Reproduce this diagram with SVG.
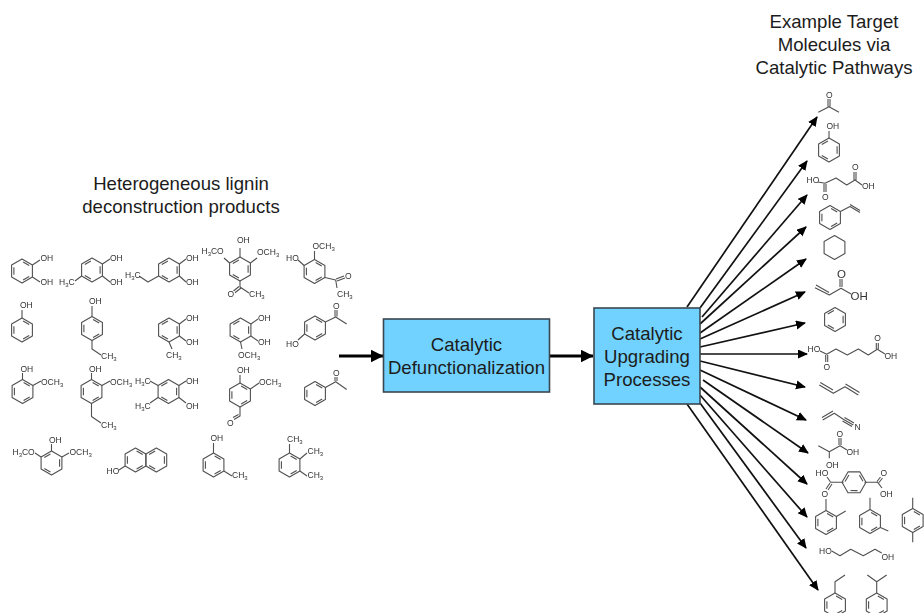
<svg xmlns="http://www.w3.org/2000/svg" width="924" height="613" viewBox="0 0 924 613">
<style>
text{font-family:"Liberation Sans",Arial,sans-serif}
.h{font-size:18.6px;fill:#1c1c1c;text-anchor:middle}
.n{font-size:18.6px;fill:#1c1c1c;text-anchor:middle}
.t{font-size:8.5px;fill:#333;filter:url(#soft)}
.l{font-size:11.5px;fill:#333;filter:url(#soft)}
.s{font-size:6px}
.b{fill:none;stroke:#505050;stroke-width:1.1;stroke-linejoin:round}
.box{fill:#71d2ff;stroke:#3a4650;stroke-width:1.6}
.a{fill:none;stroke:#111;stroke-width:1.7;marker-end:url(#ah)}
.m{fill:none;stroke:#000;stroke-width:3;marker-end:url(#mh)}
</style>
<defs>
<filter id="soft" x="-20%" y="-30%" width="140%" height="160%"><feGaussianBlur stdDeviation="0.25"/></filter>
<marker id="ah" markerUnits="userSpaceOnUse" markerWidth="11" markerHeight="10" refX="9" refY="4.5" orient="auto"><path d="M0,0L10,4.5L0,9Z" fill="#000"/></marker>
<marker id="mh" markerUnits="userSpaceOnUse" markerWidth="14" markerHeight="14" refX="12.5" refY="6.5" orient="auto"><path d="M0,0L13,6.5L0,13Z" fill="#000"/></marker>
<g id="hex"><path class="b" d="M0,-12L10.4,-6V6L0,12L-10.4,6V-6Z"/></g>
<g id="bz"><use href="#hex"/><path class="b" d="M-8.1,-3.8V3.8M1.1,-8.9L7.2,-5.4M1.1,8.9L7.2,5.4"/></g>
<g id="bzr"><use href="#hex"/><path class="b" d="M8.1,-3.8V3.8M-1.1,-8.9L-7.2,-5.4M-1.1,8.9L-7.2,5.4"/></g>
</defs>
<rect width="924" height="613" fill="#fff"/>

<g id="title-left"><text class="h" x="181" y="190">Heterogeneous lignin</text><text class="h" x="181" y="213">deconstruction products</text></g>
<g id="title-right"><text class="h" x="834" y="28">Example Target</text><text class="h" x="834" y="51">Molecules via</text><text class="h" x="834" y="73.5">Catalytic Pathways</text></g>

<g id="connectors">
<path class="m" d="M339,356H383"/>
<path class="m" d="M549,356H593"/>
<path class="a" d="M687,307L817,117"/>
<path class="a" d="M700,308L807,161"/>
<path class="a" d="M702,317L807,195"/>
<path class="a" d="M700,324L806,227"/>
<path class="a" d="M700,333L806,259"/>
<path class="a" d="M700,339L805,292"/>
<path class="a" d="M700,347L805,323"/>
<path class="a" d="M700,354H807"/>
<path class="a" d="M700,361L805,387"/>
<path class="a" d="M700,370L806,420"/>
<path class="a" d="M703,380L808,453"/>
<path class="a" d="M700,387L807,484"/>
<path class="a" d="M700,395L807,517"/>
<path class="a" d="M700,403L806,548"/>
<path class="a" d="M687,404L818,590"/>
</g>

<g id="box-defunc"><rect class="box" x="383.5" y="319" width="166" height="73"/><text class="n" x="466.5" y="351">Catalytic</text><text class="n" x="466.5" y="374">Defunctionalization</text></g>
<g id="box-upgrade"><rect class="box" x="594" y="308" width="106" height="96"/><text class="n" x="647" y="340">Catalytic</text><text class="n" x="647" y="363">Upgrading</text><text class="n" x="647" y="386">Processes</text></g>

<g id="m1"><use href="#bz" x="22" y="271"/><path class="b" d="M32.4,265L40,260M32.4,277L40,282"/><text class="t" x="40.5" y="261">OH</text><text class="t" x="40.5" y="285">OH</text></g>
<g id="m2"><use href="#bzr" x="92" y="270"/><path class="b" d="M102.4,264L110,259M102.4,276L110,282M81.6,276L75,281"/><text class="t" x="110" y="261">OH</text><text class="t" x="110" y="285">OH</text><text class="t" x="59" y="285">H<tspan class="s" dy="2">3</tspan><tspan dy="-2">C</tspan></text></g>
<g id="m3"><use href="#bzr" x="169" y="270"/><path class="b" d="M179.4,264L186,259M179.4,276L186,282M158.6,276L148,282L139,276"/><text class="t" x="186" y="261">OH</text><text class="t" x="186" y="285">OH</text><text class="t" x="125" y="278">H<tspan class="s" dy="2">3</tspan><tspan dy="-2">C</tspan></text></g>
<g id="m4"><use href="#bzr" x="240" y="269"/><path class="b" d="M240,257V248M229.6,263L224,258M250.4,263L257,258M240,281V287L249,293M239,286.5L233.5,291M241,288L235,292.8"/><text class="t" x="237" y="243">OH</text><text class="t" x="201.5" y="254">H<tspan class="s" dy="2">3</tspan><tspan dy="-2">CO</tspan></text><text class="t" x="257" y="255">OCH<tspan class="s" dy="2">3</tspan></text><text class="t" x="227.5" y="297">O</text><text class="t" x="249" y="297">CH<tspan class="s" dy="2">3</tspan></text></g>
<g id="m5"><use href="#bz" x="314.5" y="271.5"/><path class="b" d="M304.1,265.5L298,260M314.5,259.5V251M324.9,277.5L335.7,280L337,288M336,279L344,276M337,281L345,278"/><text class="t" x="286" y="260.5">HO</text><text class="t" x="312.5" y="249">OCH<tspan class="s" dy="2">3</tspan></text><text class="t" x="345" y="279">O</text><text class="t" x="337" y="296.5">CH<tspan class="s" dy="2">3</tspan></text></g>
<g id="m6"><use href="#bz" x="22" y="330"/><path class="b" d="M22,318V310"/><text class="t" x="20" y="308">OH</text></g>
<g id="m7"><use href="#bz" x="92" y="328.5"/><path class="b" d="M92,316.5V306M92,340.5V349L101,355"/><text class="t" x="89" y="304">OH</text><text class="t" x="101" y="359">CH<tspan class="s" dy="2">3</tspan></text></g>
<g id="m8"><use href="#bzr" x="169" y="330"/><path class="b" d="M179.4,324L186,319M179.4,336L186,341M169,342L172,349"/><text class="t" x="186" y="320.5">OH</text><text class="t" x="186" y="344.5">OH</text><text class="t" x="166" y="357.5">CH<tspan class="s" dy="2">3</tspan></text></g>
<g id="m9"><use href="#bzr" x="240.5" y="330"/><path class="b" d="M250.9,324L258,319M250.9,336L258,341M240.5,342L242,349"/><text class="t" x="258" y="320.5">OH</text><text class="t" x="258" y="345">OH</text><text class="t" x="238" y="357.5">OCH<tspan class="s" dy="2">3</tspan></text></g>
<g id="m10"><use href="#bz" x="315" y="328"/><path class="b" d="M304.6,334L298,340M325.4,322L335.7,317L346.7,324M335,316.5V310M337,316.5V310"/><text class="t" x="286" y="346.5">HO</text><text class="t" x="333" y="309">O</text></g>
<g id="m11"><use href="#bz" x="22.5" y="391.5"/><path class="b" d="M22.5,379.5V373M32.9,385.5L41,381"/><text class="t" x="20.5" y="371.5">OH</text><text class="t" x="41" y="384.5">OCH<tspan class="s" dy="2">3</tspan></text></g>
<g id="m12"><use href="#bz" x="91.5" y="391.5"/><path class="b" d="M91.5,379.5V373M101.9,385.5L110,381M91.5,403.5V416.5L101,423"/><text class="t" x="89" y="371.5">OH</text><text class="t" x="110" y="384.5">OCH<tspan class="s" dy="2">3</tspan></text><text class="t" x="101" y="427.5">CH<tspan class="s" dy="2">3</tspan></text></g>
<g id="m13"><use href="#bzr" x="168.5" y="391.5"/><path class="b" d="M178.9,385.5L186,381M178.9,397.5L186,403M158.1,385.5L150,381M158.1,397.5L150,403"/><text class="t" x="186" y="384">OH</text><text class="t" x="186" y="409">OH</text><text class="t" x="135" y="384">H<tspan class="s" dy="2">3</tspan><tspan dy="-2">C</tspan></text><text class="t" x="135" y="409">H<tspan class="s" dy="2">3</tspan><tspan dy="-2">C</tspan></text></g>
<g id="m14"><use href="#bz" x="240" y="395"/><path class="b" d="M240,383V375M250.4,389L259,383M240,407V416L234,419.5M238.5,414.5L233,417.5"/><text class="t" x="237" y="372.5">OH</text><text class="t" x="259" y="385">OCH<tspan class="s" dy="2">3</tspan></text><text class="t" x="227" y="425.5">O</text></g>
<g id="m15"><use href="#bz" x="315" y="393.5"/><path class="b" d="M325.4,387.5L335.7,381.7L346.7,389.5M335,381V377M337,381V377"/><text class="t" x="333" y="376">O</text></g>
<g id="m16"><use href="#bzr" x="51.5" y="463"/><path class="b" d="M51.5,451V444M41.1,457L35,453M61.9,457L69,453"/><text class="t" x="49" y="442.5">OH</text><text class="t" x="12.5" y="455">H<tspan class="s" dy="2">3</tspan><tspan dy="-2">CO</tspan></text><text class="t" x="69.5" y="455">OCH<tspan class="s" dy="2">3</tspan></text></g>
<g id="m17"><use href="#hex" x="135.5" y="460"/><use href="#hex" x="156.3" y="460"/><path class="b" d="M127.4,463.8V456.2M136.6,451L142.7,454.5M136.6,469L142.7,465.5M164.4,456.2V463.8M155.2,451L149.1,454.5M155.2,469L149.1,465.5M125.1,466L119,470"/><text class="t" x="106.5" y="474">HO</text></g>
<g id="m18"><use href="#bz" x="213.5" y="465"/><path class="b" d="M213.5,453V443M223.9,471L232,476"/><text class="t" x="210.5" y="441">OH</text><text class="t" x="232" y="478">CH<tspan class="s" dy="2">3</tspan></text></g>
<g id="m19"><use href="#bz" x="289.5" y="465"/><path class="b" d="M289.5,453V444M299.9,459L307,453M299.9,471L307,476"/><text class="t" x="287" y="441.5">CH<tspan class="s" dy="2">3</tspan></text><text class="t" x="307.5" y="453.5">CH<tspan class="s" dy="2">3</tspan></text><text class="t" x="307.5" y="477.5">CH<tspan class="s" dy="2">3</tspan></text></g>

<g id="r1"><path class="b" d="M818.3,112.3L829,106.7L839,112.3M828,106.5V99M830,106.5V99"/><text class="t" x="826" y="98">O</text></g>
<g id="r2"><use href="#bzr" x="829" y="150"/><path class="b" d="M829,138V131"/><text class="t" x="826.5" y="129">OH</text></g>
<g id="r3"><path class="b" d="M818,182L825,183.3L836,178L846.7,185L855,180L862,185M824,184V192M826,184V192M854,180V172M856,180V172"/><text class="t" x="806.5" y="183">HO</text><text class="t" x="822" y="199.5">O</text><text class="t" x="852" y="170">O</text><text class="t" x="862" y="189">OH</text></g>
<g id="r4"><use href="#bz" x="830" y="217.5"/><path class="b" d="M840.4,211.5L850,206.5L860,212.5M850,204.5L860,210.5"/></g>
<g id="r5"><use href="#hex" x="834.5" y="247.5"/></g>
<g id="r6"><path class="b" d="M815,287.7L829.3,295L841,288.3L851,294M816,285L829,292.5M840,287V279M842,287V279"/><text class="l" x="837" y="277.5">O</text><text class="l" x="850.5" y="300">OH</text></g>
<g id="r7"><use href="#bzr" x="835" y="319.5"/></g>
<g id="r8"><path class="b" d="M820,351L826.7,354.3L836,349L847.3,355L858.3,349L868.3,355L877.3,349.3L885,354M825.7,355V362M827.7,355V362M876.3,349V343M878.3,349V343"/><text class="t" x="807.5" y="352">HO</text><text class="t" x="823.5" y="370">O</text><text class="t" x="874.3" y="341">O</text><text class="t" x="884.5" y="358.5">OH</text></g>
<g id="r9"><path class="b" d="M819.3,385L833.3,393.3L845,386.7L858.3,395M820.3,382.5L833,390M845.5,384L859.5,392.5"/></g>
<g id="r10"><path class="b" d="M822.7,420L834.3,413.3L843.3,419.3L853.3,425M822,417.5L833,411M842.5,421L852,426.5M844.5,417.5L854,423"/><text class="t" x="854.5" y="430">N</text></g>
<g id="r11"><path class="b" d="M818.3,445.7L829.3,451.7L840,445.7L847,450M829.3,451.7V458.3M839,445V438M841,445V438"/><text class="t" x="826" y="467.5">OH</text><text class="t" x="836.5" y="436.5">O</text><text class="t" x="846.5" y="455">OH</text></g>
<g id="r12"><g transform="translate(854,482.3) rotate(30)"><use href="#bz"/></g><path class="b" d="M843.6,482.3H830.7L827,477M830,483L826,489M832,484L828,490M864.4,482.3H877.7L882,488M877,481.5L880.5,477M879,482.5L882.5,478"/><text class="t" x="815.5" y="475.5">HO</text><text class="t" x="821.5" y="496.5">O</text><text class="t" x="880.5" y="475.5">O</text><text class="t" x="880" y="496.5">OH</text></g>
<g id="r13"><use href="#bz" x="826" y="522.5"/><path class="b" d="M826,510.5V499M836.4,516.5L845.7,511"/></g>
<g id="r14"><use href="#bz" x="870" y="521.5"/><path class="b" d="M870,509.5V497.7M880.4,527.5L888.3,531"/></g>
<g id="r15"><use href="#bz" x="912.7" y="520.5"/><path class="b" d="M912.7,508.5V497.7M912.7,532.5V542.3"/></g>
<g id="r16"><path class="b" d="M831.7,551L840,555.7L850.7,549.3L863.3,555.7L875,549.3L881.7,553"/><text class="t" x="819" y="553.5">HO</text><text class="t" x="881.5" y="560">OH</text></g>
<g id="r17"><use href="#bz" x="835" y="605"/><path class="b" d="M835,593V581.7L845,575"/></g>
<g id="r18"><use href="#bz" x="876.7" y="605"/><path class="b" d="M876.7,593V581.7L867.3,575M876.7,581.7L886.7,575"/></g>
</svg>
